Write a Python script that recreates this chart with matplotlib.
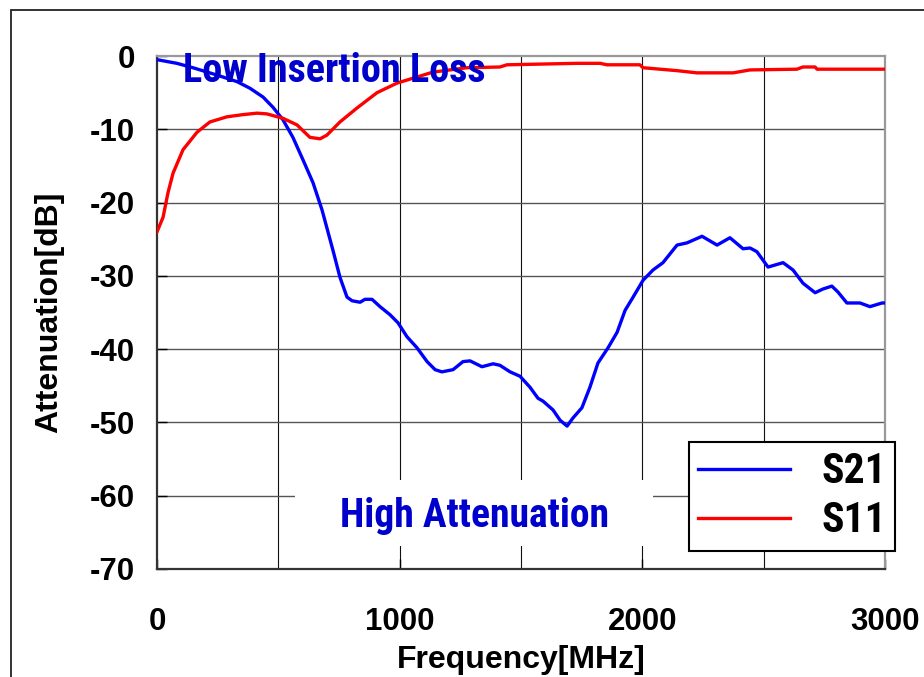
import numpy as np
import matplotlib
matplotlib.use('Agg')
import matplotlib.pyplot as plt
from matplotlib.patches import Rectangle

# ===== DATA =====
s21_freq = [0, 82, 148, 247, 330, 383, 437, 478, 519, 560, 602, 643, 680, 725, 754,
            783, 804, 837, 857, 886, 919, 960, 993, 1030, 1071, 1113, 1146, 1174, 1220,
            1261, 1290, 1339, 1385, 1413, 1455, 1496, 1537, 1570, 1591, 1632, 1661,
            1690, 1714, 1751, 1784, 1817, 1859, 1896, 1929, 1962, 2003, 2044, 2085,
            2143, 2184, 2246, 2308, 2361, 2415, 2444, 2472, 2518, 2580, 2621, 2662,
            2712, 2744, 2781, 2806, 2843, 2897, 2938, 2988, 3000]
s21_db = [-0.5, -1.0, -1.6, -2.6, -3.5, -4.4, -5.6, -7.0, -8.7, -11.1, -14.2, -17.3,
          -21.0, -26.5, -30.2, -32.9, -33.4, -33.6, -33.2, -33.2, -34.2, -35.3, -36.4,
          -38.3, -39.8, -41.7, -42.8, -43.1, -42.8, -41.7, -41.6, -42.4, -42.0, -42.2,
          -43.1, -43.7, -45.2, -46.7, -47.1, -48.3, -49.7, -50.5, -49.4, -48.0, -45.2,
          -41.9, -39.8, -37.7, -34.7, -32.9, -30.6, -29.2, -28.2, -25.8, -25.5, -24.6,
          -25.8, -24.8, -26.3, -26.2, -26.7, -28.8, -28.2, -29.2, -31.0, -32.3, -31.8,
          -31.4, -32.2, -33.7, -33.7, -34.2, -33.7, -33.7]

s11_freq = [0, 25, 45, 66, 107, 165, 218, 288, 354, 412, 453, 519, 577, 630, 672, 700,
            754, 824, 907, 989, 1137, 1277, 1413, 1442, 1731, 1826, 1854, 1990, 2003,
            2143, 2225, 2374, 2444, 2637, 2662, 2712, 2720, 3000]
s11_db = [-24.0, -22.0, -18.7, -16.0, -12.8, -10.4, -9.0, -8.3, -8.0, -7.8, -7.9, -8.5,
          -9.4, -11.1, -11.3, -10.8, -9.0, -7.1, -5.0, -3.7, -2.2, -1.6, -1.5, -1.2,
          -1.0, -1.0, -1.2, -1.2, -1.6, -2.0, -2.3, -2.3, -1.9, -1.8, -1.5, -1.5, -1.8,
          -1.8]

x_ticks = [0, 1000, 2000, 3000]
y_ticks = [0, -10, -20, -30, -40, -50, -60, -70]

# ===== FONTS =====
plt.rcParams['font.family'] = ['Liberation Sans', 'DejaVu Sans']
plt.rcParams['axes.unicode_minus'] = False
NARROW = ['Roboto Condensed', 'DejaVu Sans']

W, H = 924, 677
fig = plt.figure(figsize=(W / 100, H / 100), dpi=100)
ax = fig.add_axes([157 / W, 1 - 569 / H, (885 - 157) / W, (569 - 56) / H])

# grid
for f in range(500, 3000, 500):
	ax.axvline(f, color='#111111', lw=0.8, zorder=1)
for d in range(-60, 0, 10):
	ax.axhline(d, color='#555555', lw=1.0, zorder=1)

# white backing for the lower label
ax.add_patch(Rectangle(((295 - 157) / 728, (569 - 546) / 513), 358 / 728, 66 / 513,
                       transform=ax.transAxes, facecolor='white', edgecolor='none', zorder=1.5))

l21, = ax.plot(s21_freq, s21_db, color='#0000ff', lw=2.4, zorder=3, label='S21')
l11, = ax.plot(s11_freq, s11_db, color='#ff0000', lw=2.4, zorder=3, label='S11')

ax.set_xlim(0, 3000)
ax.set_ylim(-70, 0)
ax.set_xticks(x_ticks)
ax.set_yticks(y_ticks)
ax.tick_params(axis='both', direction='in', length=7, width=1, labelsize=22.5)
ax.tick_params(axis='x', pad=27)
ax.tick_params(axis='y', pad=16)
for lab in ax.get_xticklabels() + ax.get_yticklabels():
	lab.set_fontweight('bold')

ax.spines['left'].set_color('#333333')
ax.spines['bottom'].set_color('#333333')
ax.spines['top'].set_color('#999999')
ax.spines['right'].set_color('#999999')
for s in ax.spines.values():
	s.set_linewidth(1.6)

ax.set_xlabel('Frequency[MHz]', fontsize=23, fontweight='bold', labelpad=6)
ax.set_ylabel('Attenuation[dB]', fontsize=23, fontweight='bold', labelpad=18)

# annotations
ax.text((334 - 157) / 728, 1 - (71 - 56) / 513, 'Low Insertion Loss', transform=ax.transAxes,
        ha='center', va='center', fontsize=29, fontweight='bold', color='#0000cc',
        family=NARROW, zorder=4)
ax.text((474 - 157) / 728, 1 - (516 - 56) / 513, 'High Attenuation', transform=ax.transAxes,
        ha='center', va='center', fontsize=28.5, fontweight='bold', color='#0000cc',
        family=NARROW, zorder=4)

leg = fig.legend(handles=[l21, l11], loc='upper left',
                 bbox_to_anchor=(689 / W, 1 - 442 / H), bbox_transform=fig.transFigure,
                 fancybox=False, framealpha=1, edgecolor='black',
                 prop={'family': NARROW, 'weight': 'bold', 'size': 30},
                 handlelength=2.2, handletextpad=0.75, borderpad=0.22, labelspacing=0.2,
                 borderaxespad=0)
leg.get_frame().set_linewidth(1.5)

# outer frame
fig.patches.append(Rectangle((11 / W, -0.5), 2, 1.5 - 10 / H, transform=fig.transFigure,
                             facecolor='none', edgecolor='#222222', lw=1.3))

fig.savefig('out.png', dpi=100)
